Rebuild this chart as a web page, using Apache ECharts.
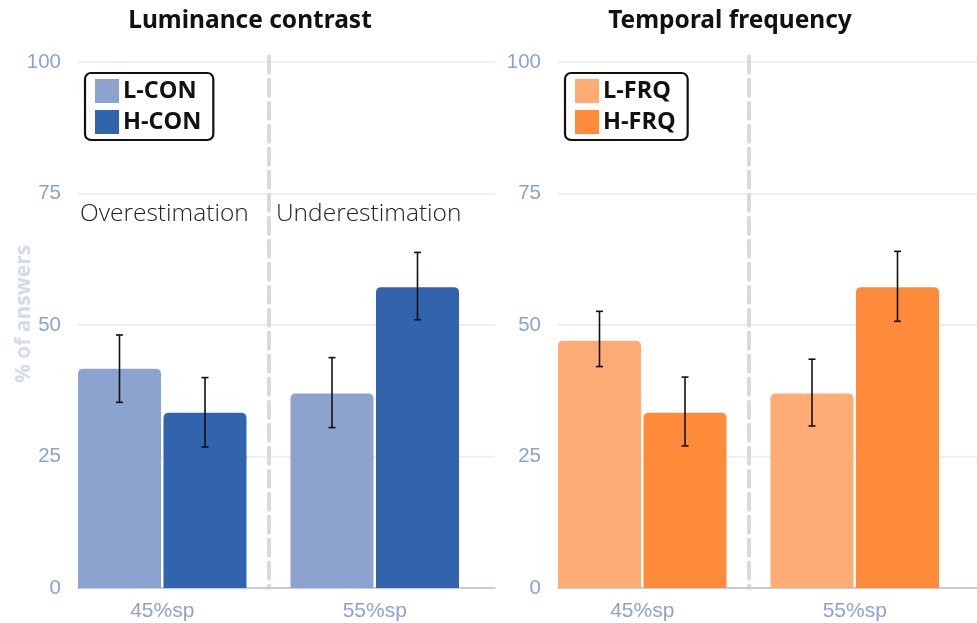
<!DOCTYPE html>
<html>
<head>
<meta charset="utf-8">
<script src="https://cdn.jsdelivr.net/npm/echarts@6/dist/echarts.min.js"></script>
<style>
html,body{margin:0;padding:0;background:#fff;}
#chart{width:977px;height:623px;}
</style>
</head>
<body>
<div id="chart"></div>
<script>
// ---- data ----
const categories = ['45%sp', '55%sp'];
const yTicks = [0, 25, 50, 75, 100];

const lconValues = [41.7, 37.0];
const hconValues = [33.3, 57.2];
const lconErr = [[35.3, 48.1], [30.5, 43.8]];
const hconErr = [[26.8, 40.0], [51.0, 63.8]];

const lfrqValues = [47.0, 37.0];
const hfrqValues = [33.3, 57.2];
const lfrqErr = [[42.1, 52.6], [30.8, 43.5]];
const hfrqErr = [[27.0, 40.1], [50.7, 64.0]];

const panelTitles = ['Luminance contrast', 'Temporal frequency'];
const legendNames = [['L-CON', 'H-CON'], ['L-FRQ', 'H-FRQ']];
const annotations = ['Overestimation', 'Underestimation'];
const yAxisName = '% of answers';

// ---- style ----
const COLORS = [['#8da3cf', '#3264ae'], ['#ffab76', '#ff8b3a']];
const BAR_W = 83;
const GAP_PX = 2.5;
const LABEL_COLOR = '#8ea2d2';
const PANEL_X = [78, 558];
const PLOT_TOP = 62, PLOT_BOTTOM_Y = 588;
const PX_PER_UNIT = (PLOT_BOTTOM_Y - PLOT_TOP) / 100;
const B_MAX = 101;

const chart = echarts.init(document.getElementById('chart'), null, {renderer: 'canvas'});

const grids = [], xAxes = [], yAxes = [], series = [], legends = [], graphics = [];

function errSeries(name, data, axisIdx, offset) {
  return {
    type: 'custom', name: name, xAxisIndex: axisIdx, yAxisIndex: axisIdx, z: 5,
    data: data.map((d, i) => [i, d[0], d[1]]),
    renderItem: function (params, api) {
      const lo = api.coord([api.value(0), api.value(1)]);
      const hi = api.coord([api.value(0), api.value(2)]);
      const cx = lo[0] + offset;
      const cap = 3.5;
      const st = {stroke: '#111', lineWidth: 1.6};
      return {type: 'group', children: [
        {type: 'line', shape: {x1: cx, y1: lo[1], x2: cx, y2: hi[1]}, style: st},
        {type: 'line', shape: {x1: cx - cap, y1: lo[1], x2: cx + cap, y2: lo[1]}, style: st},
        {type: 'line', shape: {x1: cx - cap, y1: hi[1], x2: cx + cap, y2: hi[1]}, style: st}
      ]};
    }
  };
}

const panelData = [
  [lconValues, hconValues, lconErr, hconErr],
  [lfrqValues, hfrqValues, lfrqErr, hfrqErr]
];

for (let p = 0; p < 2; p++) {
  const x0 = PANEL_X[p];
  const aIdx = p * 2, bIdx = p * 2 + 1;
  grids.push({left: x0, width: p === 0 ? 417 : 430, top: PLOT_TOP, bottom: 623 - PLOT_BOTTOM_Y, containLabel: false});
  const bTop = PLOT_BOTTOM_Y - B_MAX * PX_PER_UNIT;
  grids.push({left: x0 - 22, width: 425, top: bTop, bottom: 623 - PLOT_BOTTOM_Y, containLabel: false});

  xAxes.push({
    type: 'category', gridIndex: aIdx, data: categories,
    axisLine: {show: true, lineStyle: {color: '#b3c3e4', width: 1.5}},
    axisTick: {show: false}, axisLabel: {show: false}, splitLine: {show: false}
  });
  xAxes.push({
    type: 'category', gridIndex: bIdx, data: categories,
    axisLine: {show: false}, axisTick: {show: false},
    axisLabel: {show: true, color: LABEL_COLOR, fontSize: 21, fontFamily: 'Liberation Sans', margin: 13},
    splitLine: {show: true, showMinLine: false, showMaxLine: false,
      lineStyle: {color: '#d9d9d9', width: 4, type: [16, 7], cap: 'round'}}
  });
  const yA = {
    type: 'value', gridIndex: aIdx, min: yTicks[0], max: yTicks[yTicks.length - 1], interval: yTicks[1] - yTicks[0],
    axisLine: {show: false}, axisTick: {show: false},
    axisLabel: {color: LABEL_COLOR, fontSize: 20.5, fontFamily: 'Liberation Sans', margin: 17},
    splitLine: {show: true, lineStyle: {color: '#e4eaf4', width: 1.5}}
  };
  if (p === 0) {
    Object.assign(yA, {
      name: yAxisName, nameLocation: 'middle', nameGap: 43, nameRotate: 90, nameMoveOverlap: false,
      nameTextStyle: {color: '#d3dbeb', fontSize: 21, fontWeight: 'bold', fontFamily: 'Open Sans', padding: [0, 0, 0, 22]}
    });
  }
  yAxes.push(yA);
  yAxes.push({type: 'value', gridIndex: bIdx, min: 0, max: B_MAX, show: false});

  const [lowV, highV, lowE, highE] = panelData[p];
  const off = (BAR_W + GAP_PX) / 2;
  series.push({
    type: 'bar', name: legendNames[p][0], xAxisIndex: bIdx, yAxisIndex: bIdx, data: lowV,
    barWidth: BAR_W, barGap: (GAP_PX / BAR_W * 100).toFixed(2) + '%',
    itemStyle: {color: COLORS[p][0], borderRadius: [5, 5, 0, 0]}
  });
  series.push({
    type: 'bar', name: legendNames[p][1], xAxisIndex: bIdx, yAxisIndex: bIdx, data: highV,
    barWidth: BAR_W, barGap: (GAP_PX / BAR_W * 100).toFixed(2) + '%',
    itemStyle: {color: COLORS[p][1], borderRadius: [5, 5, 0, 0]}
  });
  series.push(errSeries('err-' + p + '-l', lowE, bIdx, -off));
  series.push(errSeries('err-' + p + '-h', highE, bIdx, off));

  legends.push({
    data: legendNames[p], orient: 'vertical', left: x0 + 7, top: 73,
    itemWidth: 24, itemHeight: 24, itemGap: 7, icon: 'rect', selectedMode: false,
    padding: [6, 12, 6, 10], borderColor: '#111', borderWidth: 2.2, borderRadius: 6,
    itemStyle: {borderRadius: 2},
    textStyle: {fontSize: 23.5, fontWeight: 'bold', fontFamily: 'Open Sans', color: '#111', lineHeight: 24, padding: [0, 0, 0, -1]}
  });

  graphics.push({
    type: 'text', x: x0 + 172, y: 21,
    style: {text: panelTitles[p], align: 'center', verticalAlign: 'middle',
      font: 'bold 24.5px "Noto Sans"', fill: '#111'}
  });
}

graphics.push({type: 'text', x: 80, y: 214,
  style: {text: annotations[0], align: 'left', verticalAlign: 'middle', font: '300 24.5px "Open Sans"', fill: '#222'}});
graphics.push({type: 'text', x: 276, y: 214,
  style: {text: annotations[1], align: 'left', verticalAlign: 'middle', font: '300 24.5px "Open Sans"', fill: '#222'}});

chart.setOption({
  animation: false,
  backgroundColor: '#fff',
  grid: grids, xAxis: xAxes, yAxis: yAxes, series: series, legend: legends, graphic: graphics
});
</script>
</body>
</html>
